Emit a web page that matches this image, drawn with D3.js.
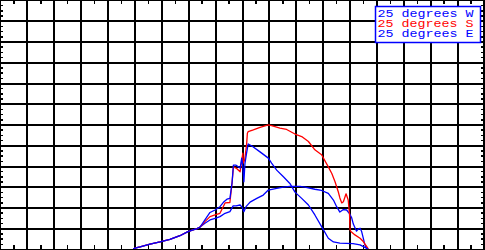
<!DOCTYPE html>
<html>
<head>
<meta charset="utf-8">
<script src="https://cdn.jsdelivr.net/npm/d3@7"></script>
<style>
  body { margin: 0; background: #fff; }
  svg { display: block; }
</style>
</head>
<body>
<div id="chart"></div>
<script>
// hour of day, irradiance (W/m2)
const sunrise = [[7.95,0],[8.02,2],[8.21,5],[8.58,12],[8.95,17],[9.32,23],[9.69,32],[9.99,42],[10.18,46],[10.33,49],[10.44,53]];

const west = sunrise.concat([[10.62,62],[10.81,70],[11.0,74],[11.18,78],[11.37,86],[11.55,90],[11.67,104],[11.78,104],[11.93,106],[12.0,101],[12.07,90],[12.15,102],[12.30,113],[12.55,122],[12.79,130],[12.98,142],[13.29,146],[13.54,149],[13.78,151],[14.16,151],[14.34,149],[14.71,144],[14.96,141],[15.21,134],[15.40,118],[15.52,102],[15.64,89],[15.77,95],[15.89,94],[15.99,86],[16.08,75],[16.14,60],[16.26,43],[16.32,48],[16.39,50],[16.45,42],[16.51,26],[16.57,10],[16.64,0]]);

const south = sunrise.concat([[10.62,66],[10.81,78],[11.0,82],[11.18,86],[11.37,111],[11.55,112],[11.63,159],[11.68,198],[11.80,194],[11.93,186],[12.03,231],[12.05,207],[12.10,215],[12.17,251],[12.20,279],[12.23,283],[12.42,287],[12.67,293],[12.98,299],[13.10,297],[13.41,291],[13.66,288],[13.97,277],[14.22,271],[14.47,259],[14.71,239],[14.96,227],[15.21,198],[15.34,182],[15.46,162],[15.58,138],[15.64,123],[15.71,111],[15.77,114],[15.87,133],[15.95,118],[16.0,82],[16.02,46],[16.05,42],[16.20,34],[16.39,26],[16.51,18],[16.64,6],[16.70,0]]);

const east = sunrise.concat([[10.62,70],[10.81,88],[11.0,94],[11.18,102],[11.33,114],[11.44,120],[11.55,122],[11.63,159],[11.68,202],[11.78,202],[11.93,195],[11.99,219],[12.03,198],[12.07,162],[12.11,206],[12.17,231],[12.23,253],[12.42,246],[12.67,234],[12.98,219],[13.10,207],[13.29,190],[13.54,174],[13.78,158],[13.97,137],[14.22,122],[14.47,106],[14.71,82],[14.96,54],[15.21,26],[15.40,17],[15.64,14],[16.13,13],[16.39,10],[16.57,4],[16.69,0]]);

const seriesNames = ['25 degrees W', '25 degrees S', '25 degrees E'];
const seriesColors = ['#0000ff', '#ff0000', '#0000ff'];
const seriesData = [west, south, east];

const xDomain = [3, 21];
const yDomain = [0, 600];

const WIDTH = 485, HEIGHT = 250;
const PLOT = { LEFT: 0, TOP: 0, RIGHT: 484, BOTTOM: 249 };

const svg = d3.select('#chart')
  .append('svg')
  .attr('width', WIDTH)
  .attr('height', HEIGHT);

const x = d3.scaleLinear().domain(xDomain).range([PLOT.LEFT, PLOT.RIGHT]);
const y = d3.scaleLinear().domain(yDomain).range([PLOT.BOTTOM, PLOT.TOP]);

const majorX = d3.range(xDomain[0] + 1, xDomain[1], 1);
const majorY = d3.range(50, yDomain[1], 50);
const minorX = d3.range(xDomain[0] + 0.5, xDomain[1], 1);
const minorY = d3.range(12.5, yDomain[1], 12.5).filter(v => v % 50 !== 0);

// grid
svg.append('g')
  .attr('class', 'grid')
  .attr('transform', `translate(0, ${PLOT.BOTTOM})`)
  .call(d3.axisBottom(x).tickValues(majorX).tickSize(-(PLOT.BOTTOM - PLOT.TOP)).tickFormat(''));

svg.append('g')
  .attr('class', 'grid')
  .attr('transform', `translate(${PLOT.LEFT}, 0)`)
  .call(d3.axisLeft(y).tickValues(majorY).tickSize(-(PLOT.RIGHT - PLOT.LEFT)).tickFormat(''));

svg.selectAll('.grid .domain').remove();
svg.selectAll('.grid line')
  .attr('stroke', '#000')
  .attr('stroke-width', 2)
  .attr('shape-rendering', 'crispEdges');

// minor ticks on all four sides
const minor = [
  { axis: d3.axisTop(x).tickValues(minorX).tickSize(-4), t: `translate(0, ${PLOT.TOP})` },
  { axis: d3.axisBottom(x).tickValues(minorX).tickSize(-4), t: `translate(0, ${PLOT.BOTTOM})` },
  { axis: d3.axisLeft(y).tickValues(minorY).tickSize(-3), t: `translate(${PLOT.LEFT}, 0)` },
  { axis: d3.axisRight(y).tickValues(minorY).tickSize(-3), t: `translate(${PLOT.RIGHT}, 0)` }
];
minor.forEach(m => {
  const g = svg.append('g')
    .attr('class', 'minor')
    .attr('transform', m.t)
    .call(m.axis.tickFormat(''));
  g.select('.domain').remove();
  g.selectAll('line')
    .attr('stroke', '#000')
    .attr('stroke-width', 1.5)
    .attr('shape-rendering', 'crispEdges');
});

// frame
svg.append('rect')
  .attr('x', PLOT.LEFT + 0.5)
  .attr('y', PLOT.TOP + 0.5)
  .attr('width', PLOT.RIGHT - PLOT.LEFT - 0.5)
  .attr('height', PLOT.BOTTOM - PLOT.TOP)
  .attr('fill', 'none')
  .attr('stroke', '#000')
  .attr('stroke-width', 1.5)
  .attr('shape-rendering', 'crispEdges');

svg.append('clipPath')
  .attr('id', 'plot-clip')
  .append('rect')
  .attr('x', PLOT.LEFT)
  .attr('y', PLOT.TOP)
  .attr('width', PLOT.RIGHT - PLOT.LEFT)
  .attr('height', PLOT.BOTTOM - PLOT.TOP);

const line = d3.line()
  .x(d => x(d[0]))
  .y(d => y(d[1]));

svg.append('g')
  .attr('clip-path', 'url(#plot-clip)')
  .selectAll('path')
  .data(seriesData)
  .enter().append('path')
  .attr('d', line)
  .attr('fill', 'none')
  .attr('stroke', (d, i) => seriesColors[i])
  .attr('stroke-width', 1.3)
  .attr('stroke-linejoin', 'round');

// legend
const legend = svg.append('g').attr('transform', 'translate(375.5, 6.5)');

legend.append('rect')
  .attr('width', 105)
  .attr('height', 36)
  .attr('fill', '#fff')
  .attr('stroke', '#0000ff')
  .attr('stroke-width', 1.5);

legend.selectAll('text')
  .data(seriesNames)
  .enter().append('text')
  .attr('x', 2)
  .attr('y', (d, i) => 10.5 + i * 10)
  .attr('fill', (d, i) => seriesColors[i])
  .attr('font-family', 'Liberation Mono, DejaVu Sans Mono, monospace')
  .attr('font-size', 11)
  .attr('textLength', 96)
  .attr('lengthAdjust', 'spacingAndGlyphs')
  .text(d => d);
</script>
</body>
</html>
